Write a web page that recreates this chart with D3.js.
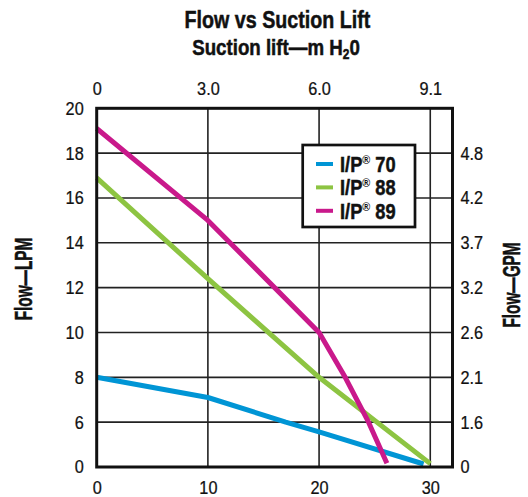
<!DOCTYPE html>
<html><head><meta charset="utf-8">
<script src="https://cdn.jsdelivr.net/npm/d3@7"></script>
<style>
html,body{margin:0;padding:0;background:#fff;}
svg{display:block;}
text{font-family:'Liberation Sans',Arial,sans-serif;fill:#111;}
</style></head>
<body><svg id="c" width="528" height="497"></svg>
<script>
// ---- data ----
const seriesNames = ["70", "88", "89"];
const seriesColors = ["#0095d5", "#8dc442", "#c9198b"];
const ip70 = [[0, 8.0], [10, 7.1], [17, 6.0], [20, 4.7], [29.4, 0.4]];
const ip88 = [[0, 16.9], [10, 12.4], [20, 8.0], [30, 0.45]];
const ip89 = [[0, 19.1], [10, 15.0], [20, 10.0], [22.35, 8.0], [24.45, 6.0], [26.1, 0.5]];
const seriesData = [ip70, ip88, ip89];
const xTicksFt = [0, 10, 20, 30];
const xTicksM = ["0", "3.0", "6.0", "9.1"];
const yTicksLpm = [0, 6, 8, 10, 12, 14, 16, 18, 20];
const yTicksGpmPos = [0, 6, 8, 10, 12, 14, 16, 18];
const yTicksGpm = ["0", "1.6", "2.1", "2.6", "3.2", "3.7", "4.2", "4.8"];

(function () {
const FONT = "'Liberation Sans',Arial,sans-serif";
const svg = d3.select("#c");
const L = 96.7, R = 452.5, T = 108.3, B = 467;
const step = (B - T) / 8;
const x = d3.scaleLinear().domain([0, 32]).range([L, R]);
// broken axis: 0 -> 6 shares one grid interval
const y = d3.scaleLinear().domain([0, 6, 20]).range([B, B - step, T]);

// condensed text helper
function ctext(parent, px, py, sx, size, rot) {
  const g = parent.append("g").attr("transform", `translate(${px},${py})` + (rot ? ` rotate(${rot})` : ""));
  return g.append("text").attr("transform", `scale(${sx},1)`)
    .attr("font-size", size).attr("font-weight", "bold").attr("text-anchor", "middle")
    .attr("stroke", "#111").attr("stroke-width", 0.5);
}

// gridlines
const g = svg.append("g");
g.selectAll("line.h").data(yTicksLpm).join("line")
  .attr("x1", L).attr("x2", R).attr("y1", d => y(d)).attr("y2", d => y(d))
  .attr("stroke", "#222").attr("stroke-width", 1.6);
g.selectAll("line.v").data(xTicksFt.slice(1)).join("line")
  .attr("y1", T).attr("y2", B).attr("x1", d => x(d)).attr("x2", d => x(d))
  .attr("stroke", "#222").attr("stroke-width", 1.6);

// series lines
const line = d3.line().x(d => x(d[0])).y(d => y(d[1]));
svg.append("g").selectAll("path").data(seriesData).join("path")
  .attr("d", line).attr("fill", "none")
  .attr("stroke", (d, i) => seriesColors[i]).attr("stroke-width", 5)
  .attr("stroke-linejoin", "round");

// frame
svg.append("rect").attr("x", L).attr("y", T).attr("width", R - L).attr("height", B - T)
  .attr("fill", "none").attr("stroke", "#111").attr("stroke-width", 3);

// axes labels
const fs = 18.5, tsx = 0.88;
function clean(s) {
  s.select(".domain").remove();
  s.attr("font-family", null).attr("font-size", null);
  s.selectAll("text").each(function () {
    const t = d3.select(this);
    const xv = +(t.attr("x") || 0);
    t.attr("x", xv / tsx).attr("transform", `scale(${tsx},1)`)
      .attr("font-size", fs).attr("fill", "#111").style("font-family", FONT)
      .attr("stroke", "#111").attr("stroke-width", 0.25);
  });
}
const axL = d3.axisLeft(y).tickValues(yTicksLpm).tickSize(0).tickPadding(13);
svg.append("g").attr("transform", `translate(${L},0)`).call(axL).call(clean);
const axR = d3.axisRight(y).tickValues(yTicksGpmPos).tickSize(0).tickPadding(8)
  .tickFormat((d, i) => yTicksGpm[i]);
svg.append("g").attr("transform", `translate(${R},0)`).call(axR).call(clean);
const axT = d3.axisTop(x).tickValues(xTicksFt).tickSize(0).tickPadding(13)
  .tickFormat((d, i) => xTicksM[i]);
svg.append("g").attr("transform", `translate(0,${T})`).call(axT).call(clean);
const axB = d3.axisBottom(x).tickValues(xTicksFt).tickSize(0).tickPadding(14);
svg.append("g").attr("transform", `translate(0,${B})`).call(axB).call(clean);

// titles
ctext(svg, 277.5, 28, 0.82, 24).text("Flow vs Suction Lift");
const st = ctext(svg, 276, 55, 0.85, 22);
st.append("tspan").text("Suction lift—m H");
st.append("tspan").attr("font-size", 14).attr("dy", 4).text("2");
st.append("tspan").attr("dy", -4).text("0");

ctext(svg, 32, 279, 0.64, 24, -90).text("Flow—LPM");
ctext(svg, 520, 285, 0.64, 24, -90).text("Flow—GPM");

// legend
const lg = svg.append("g");
lg.append("rect").attr("x", 302.7).attr("y", 145).attr("width", 112.3).attr("height", 82)
  .attr("fill", "#fff").attr("stroke", "#111").attr("stroke-width", 2.7);
const rows = lg.selectAll("g.row").data(seriesNames).join("g")
  .attr("transform", (d, i) => `translate(0,${164 + i * 23.4})`);
rows.append("line").attr("x1", 316).attr("x2", 333).attr("y1", 0).attr("y2", 0)
  .attr("stroke", (d, i) => seriesColors[i]).attr("stroke-width", 4);
const lt = rows.append("g").attr("transform", "translate(340,8)").append("text")
  .attr("transform", "scale(0.83,1)")
  .attr("font-size", 22).attr("font-weight", "bold")
  .attr("stroke", "#111").attr("stroke-width", 0.5);
lt.append("tspan").text("I/P");
lt.append("tspan").attr("font-size", 13).attr("dy", -8).attr("stroke-width", 0).text("®");
lt.append("tspan").attr("dy", 8).text(d => " " + d);
})();
</script>
</body></html>
